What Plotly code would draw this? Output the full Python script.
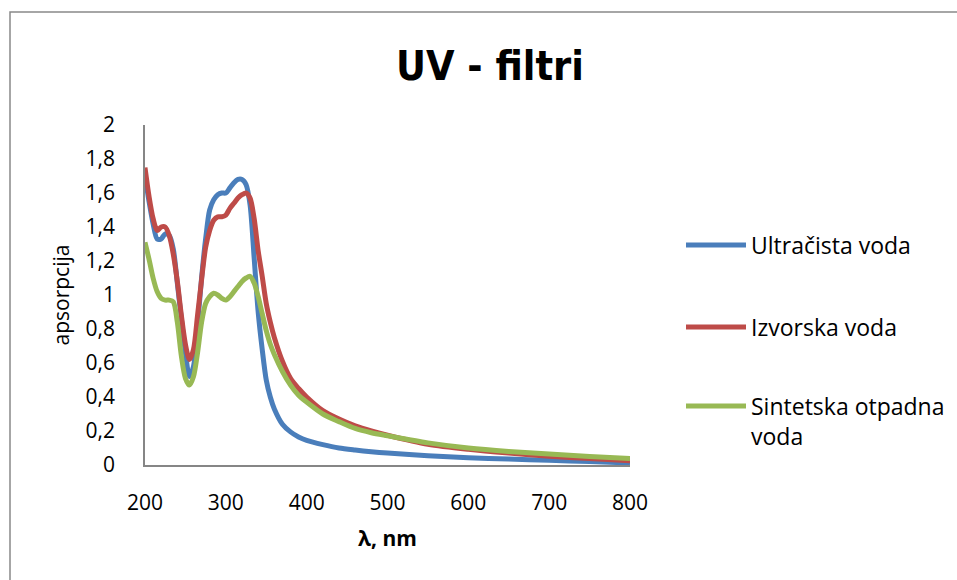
import plotly.graph_objects as go

# Wavelengths (nm)
wavelength = [200, 205, 210, 215, 220, 225, 230, 235, 240, 245, 250, 255, 260, 265, 270, 275,
              280, 285, 290, 295, 300, 305, 310, 315, 320, 325, 330, 335, 340, 345, 350, 355,
              360, 370, 380, 390, 400, 420, 440, 460, 480, 500, 550, 600, 650, 700, 750, 800]

ultracista = [1.70, 1.55, 1.42, 1.33, 1.33, 1.36, 1.35, 1.27, 1.07, 0.86, 0.66, 0.52, 0.58, 0.82,
              1.10, 1.33, 1.50, 1.56, 1.59, 1.60, 1.60, 1.63, 1.66, 1.68, 1.68, 1.65, 1.53, 1.22,
              0.90, 0.68, 0.50, 0.40, 0.33, 0.24, 0.195, 0.165, 0.145, 0.12, 0.10, 0.088, 0.078,
              0.07, 0.055, 0.043, 0.035, 0.028, 0.02, 0.012]

izvorska = [1.75, 1.58, 1.45, 1.38, 1.40, 1.40, 1.35, 1.24, 1.08, 0.88, 0.71, 0.62, 0.68, 0.88,
            1.09, 1.28, 1.38, 1.44, 1.46, 1.46, 1.47, 1.51, 1.54, 1.57, 1.59, 1.60, 1.57, 1.45,
            1.26, 1.11, 0.95, 0.84, 0.75, 0.61, 0.51, 0.45, 0.40, 0.32, 0.27, 0.23, 0.20, 0.175,
            0.122, 0.092, 0.07, 0.052, 0.038, 0.025]

sintetska = [1.31, 1.21, 1.10, 1.02, 0.98, 0.97, 0.97, 0.96, 0.84, 0.64, 0.51, 0.47, 0.52, 0.66,
             0.84, 0.95, 0.99, 1.01, 1.00, 0.98, 0.97, 0.99, 1.02, 1.05, 1.08, 1.10, 1.11, 1.07,
             0.99, 0.89, 0.79, 0.71, 0.65, 0.55, 0.47, 0.41, 0.37, 0.30, 0.255, 0.215, 0.19, 0.172,
             0.13, 0.10, 0.08, 0.065, 0.05, 0.038]

series_names = ["Ultračista voda", "Izvorska voda", "Sintetska otpadna<br>voda"]
series_values = [ultracista, izvorska, sintetska]
series_colors = ["#4A7EBB", "#BE4B48", "#98B954"]
legend_ids = ["legend", "legend2", "legend3"]

x_ticks = [200, 300, 400, 500, 600, 700, 800]
y_ticks = [0, 0.2, 0.4, 0.6, 0.8, 1, 1.2, 1.4, 1.6, 1.8, 2]

FONT = "Open Sans"

fig = go.Figure()
for name, vals, col, lg in zip(series_names, series_values, series_colors, legend_ids):
    fig.add_trace(go.Scatter(
        x=wavelength, y=vals, name=name, mode="lines",
        line=dict(color=col, width=5, shape="spline", smoothing=0.8),
        legend=lg, showlegend=True,
    ))

W, H = 957, 580
L, R, T, B = 145, 327, 125, 115
pw, ph = W - L - R, H - T - B

def px2paper_x(px):
    return (px - L) / pw

def px2paper_y(py):
    return (H - B - py) / ph

leg_common = dict(font=dict(family=FONT, size=23, color="#000000"), bgcolor="rgba(0,0,0,0)",
                  xanchor="left", yanchor="middle", itemwidth=60, valign="top")

fig.update_layout(
    width=W, height=H,
    margin=dict(l=L, r=R, t=T, b=B, autoexpand=False),
    showlegend=True,
    paper_bgcolor="white", plot_bgcolor="white",
    separators=", ",
    font=dict(family=FONT, color="#000000"),
    title=dict(text="<b>UV - filtri</b>", font=dict(family="DejaVu Sans Condensed", size=41, color="#000000"),
               x=490 / W, xref="container", xanchor="center",
               y=1 - 66 / H, yref="container", yanchor="middle"),
    xaxis=dict(range=[200, 800], tickvals=x_ticks, showgrid=False, zeroline=False,
               showline=True, linecolor="#868686", linewidth=1.5, automargin=False,
               ticks="", ticklabelstandoff=18,
               tickfont=dict(family=FONT, size=21),
               title=dict(text="<b>λ, nm</b>", font=dict(family=FONT, size=21), standoff=16)),
    yaxis=dict(range=[0, 2], tickvals=y_ticks, showgrid=False, zeroline=False,
               showline=True, linecolor="#868686", linewidth=1.5, automargin=False,
               ticks="", ticklabelstandoff=24,
               tickfont=dict(family=FONT, size=21),
               title=dict(text="apsorpcija", font=dict(family=FONT, size=21), standoff=10)),
    legend=dict(x=px2paper_x(681), y=px2paper_y(245), **leg_common),
    legend2=dict(x=px2paper_x(681), y=px2paper_y(327), **leg_common),
    legend3=dict(x=px2paper_x(681), y=px2paper_y(421), **leg_common),
    shapes=[dict(type="rect", xref="paper", yref="paper",
                 x0=px2paper_x(10), x1=px2paper_x(1100),
                 y0=px2paper_y(700), y1=px2paper_y(12),
                 line=dict(color="#898989", width=1.5), fillcolor="rgba(0,0,0,0)", layer="below")],
)

fig.write_html("out.html",
               config={"displayModeBar": False},
               post_script="document.body.style.margin='0';document.body.style.overflow='hidden';")
